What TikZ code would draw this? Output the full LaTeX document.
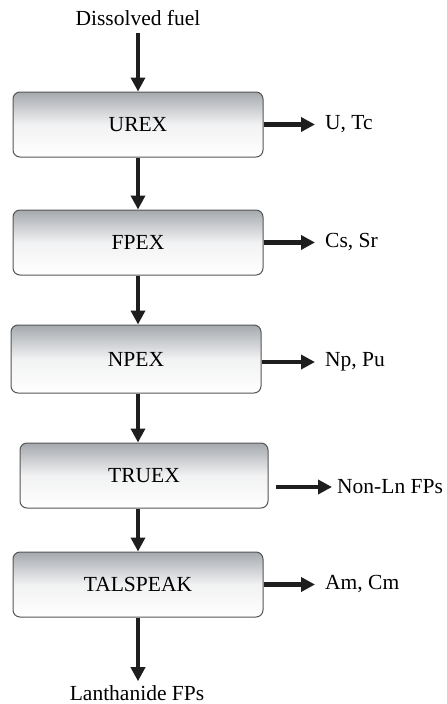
\documentclass[tikz,border=0pt]{standalone}
\usepackage{fontspec}
\setmainfont{Liberation Serif}
\usetikzlibrary{arrows.meta,calc}
\definecolor{boxtop}{RGB}{165,169,174}
\definecolor{boxline}{RGB}{85,85,85}
\definecolor{arrowc}{RGB}{30,30,30}
\begin{document}
\begin{tikzpicture}[x=1pt,y=-1pt,
  font=\fontsize{21.5}{25}\selectfont,
  stagebox/.style={draw=boxline,line width=1pt,rounded corners=7pt,
    top color=boxtop,bottom color=white,middle color=white!85!boxtop,
    minimum width=250pt,minimum height=65pt,inner sep=0pt},
  lbl/.style={inner sep=0pt,anchor=west},
  flow/.style={draw=arrowc,line width=4.5pt,-{Triangle[length=14pt,width=14pt]}}]
\useasboundingbox (0,0) rectangle (447,704);
\node[inner sep=0pt] (fuel) at (138,18) {Dissolved fuel};
\node[stagebox] (urex) at (138,124.5) {UREX};
\node[stagebox] (fpex) at (138,242.5) {FPEX};
\node[stagebox,minimum height=68pt] (npex) at (136,359) {NPEX};
\node[stagebox,minimum width=248pt] (truex) at (144,475.5) {TRUEX};
\node[stagebox] (tal) at (138,584.5) {TALSPEAK};
\node[inner sep=0pt] (lan) at (137,693) {Lanthanide FPs};
\node[lbl] (utc) at (325,124.5) {U, Tc};
\node[lbl] (cssr) at (325,242.5) {Cs, Sr};
\node[lbl] (nppu) at (325,362) {Np, Pu};
\node[lbl] (nonln) at (337,487) {Non-Ln FPs};
\node[lbl] (amcm) at (325,584.5) {Am, Cm};
\coordinate (cx) at (138,0);
\draw[flow] (fuel.south -| cx) ++(0,7) -- (urex.north -| cx);
\draw[flow] (urex.south -| cx) -- (fpex.north -| cx);
\draw[flow] (fpex.south -| cx) -- (npex.north -| cx);
\draw[flow] (npex.south -| cx) -- (truex.north -| cx);
\draw[flow] (truex.south -| cx) -- (tal.north -| cx);
\draw[flow] (tal.south -| cx) -- ($(lan.north -| cx)+(0,-4)$);
\draw[flow,shorten >=10pt] (urex.east) -- (utc.west);
\draw[flow,shorten >=10pt] (fpex.east) -- (cssr.west);
\draw[flow,shorten >=10pt] (npex.east |- nppu.west) -- (nppu.west);
\draw[flow,shorten >=5pt,shorten <=7pt] (truex.east |- nonln.west) -- (nonln.west);
\draw[flow,shorten >=10pt] (tal.east) -- (amcm.west);
\end{tikzpicture}
\end{document}
